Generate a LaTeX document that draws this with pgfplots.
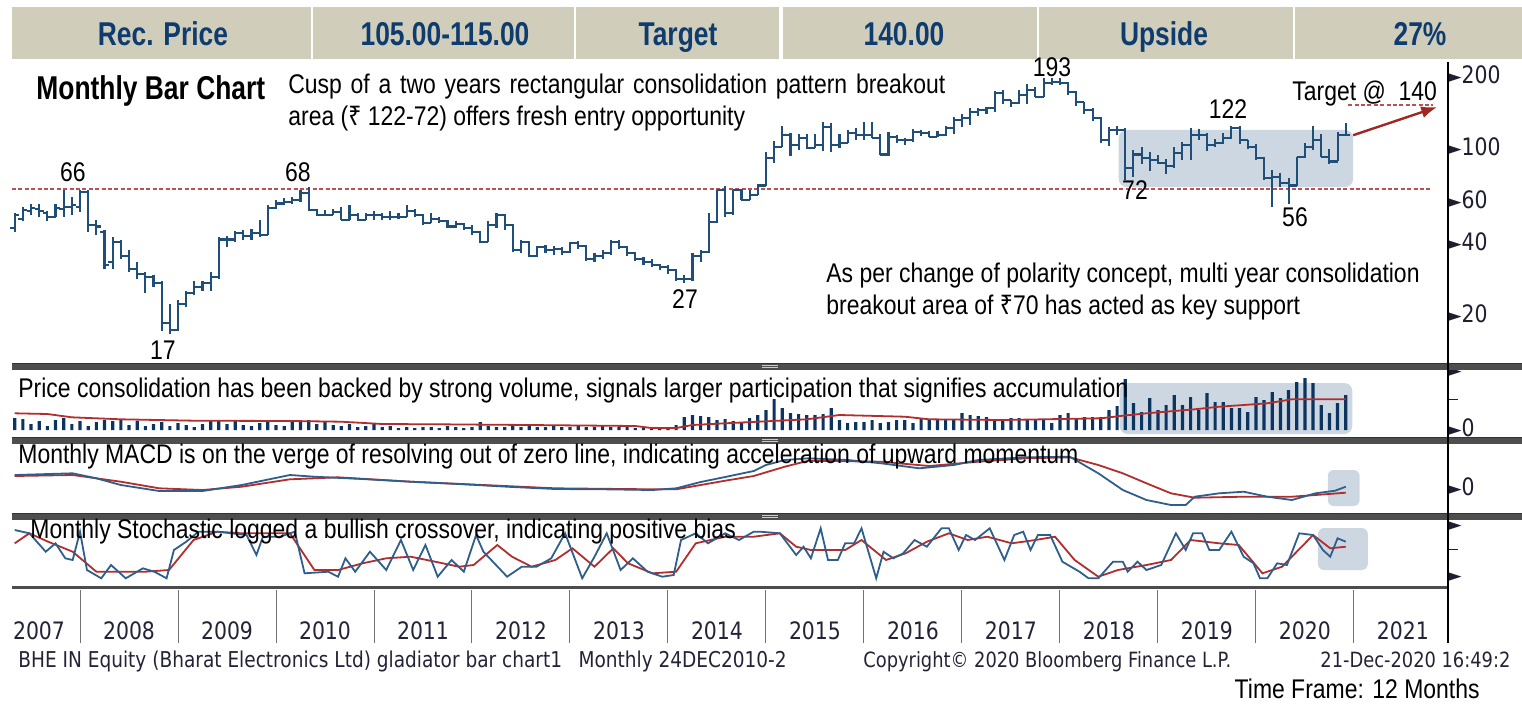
\documentclass[border=0pt]{standalone}
\usepackage{fontspec}
\setmainfont{Liberation Sans}
\newfontfamily\narrow{Liberation Sans}[FakeStretch=0.85]
\newfontfamily\hdr{Liberation Sans}[FakeStretch=0.8]
\newfontfamily\tahoma{DejaVu Sans}[FakeStretch=0.85]
\newfontfamily\djv{DejaVu Sans}
\newfontfamily\rupee{Noto Sans}[FakeStretch=0.85]
\usepackage{pgfplots}
\pgfplotsset{compat=1.18}
\usepackage{pgfplotstable}
\usetikzlibrary{arrows.meta}

\definecolor{hdrbg}{RGB}{209,205,187}
\definecolor{hdrtx}{RGB}{14,60,110}
\definecolor{barc}{RGB}{31,78,121}
\definecolor{volc}{RGB}{12,52,97}
\definecolor{macdb}{RGB}{46,95,140}
\definecolor{redl}{RGB}{178,45,45}
\definecolor{dashc}{RGB}{192,80,77}
\definecolor{shade}{RGB}{205,215,225}
\definecolor{sepc}{RGB}{78,78,78}
\definecolor{foot}{RGB}{35,35,55}
\definecolor{tickc}{RGB}{30,30,50}
\definecolor{arrowc}{RGB}{160,40,35}

\newcommand\tri{{\djv\fontsize{8.5}{8.5}\selectfont\raisebox{0.6pt}{►}}}
\newcommand\tdash{\rule[3.6pt]{4.5pt}{0.6pt}}
\newcommand\ticfont{\tahoma\fontsize{12}{12}\selectfont}
\newcommand\ann{\narrow\fontsize{13.5}{15}\selectfont}
\newcommand\rs{{\rupee ₹}}

\pgfdeclareplotmark{ohlcL}{\pgfpathmoveto{\pgfqpoint{-2.2pt}{0pt}}\pgfpathlineto{\pgfqpoint{0pt}{0pt}}\pgfusepathqstroke}
\pgfdeclareplotmark{ohlcR}{\pgfpathmoveto{\pgfqpoint{0pt}{0pt}}\pgfpathlineto{\pgfqpoint{2.2pt}{0pt}}\pgfusepathqstroke}

\pgfplotsset{panel/.style={anchor=north west, scale only axis, width=717.5pt,
  xmin=-8.33, xmax=167.4, axis line style={draw=none}, xtick=\empty,
  major tick length=0pt, yticklabel pos=right,
  yticklabel style={anchor=west, inner sep=0pt, xshift=0.6pt, font=\ticfont, text=tickc},
  clip=false}}

\pgfplotstableread{
m o h l c
-8 46 53 44 52
-7 50 56 49 54.5
-6 54 58 52 55.5
-5 55 58 51 54
-4 53 54 49 51
-3 51 58 51 55.5
-2 55 66 51 56
-1 56 62 52 57
0 56 66 53.5 65
1 65 66 44 47
2 47 49.5 43 46.5
3 44 45 31 32
4 33 42 31 40
5 40 41 34 35
6 35 37 30 31
7 31 33 28 29.5
8 29.5 30 24.5 28.5
9 28.5 29 26 27
10 27 27.5 17 18.3
11 18.3 22 16.5 17.2
12 17.2 23 17 22
13 22 25 21.5 24.5
14 24.5 27.5 24 26
15 26 27.5 25 27
16 27 30 25 28.5
17 28.5 42 28 41
18 41 42.5 38 41
19 41 44.5 40 43.5
20 43.5 45 41 42.5
21 42.5 45.5 41 43.5
22 43.5 49.5 42 43
23 43 57 43 55.5
24 55.5 60 55 58
25 58 61 57 59
26 59 62 57.5 60
27 60 66 59 64
28 64 68 54 54.5
29 54.5 55 51.5 52
30 52 54.5 51.5 52
31 52 55 52 53.5
32 53.5 56 49.5 49.5
33 49.5 57 49.5 52
34 52 53 49 49.5
35 49.5 53 49.5 52
36 52 54 49.5 52
37 52 53 49.5 51
38 51 54 49.5 51
39 51 53 50 51
40 51 57 51 54
41 54 55 51 52
42 52 52.5 47 48
43 48 53 48 50
44 50 51 48 49
45 49 49.5 46 46.5
46 46.5 49 46 47.5
47 47.5 48 45 46
48 46 47 43 44
49 44 44.5 39.5 40
50 40 49 40 47
51 47 53 46 52
52 52 52.5 45 47
53 47 47.5 36.5 37
54 37 41 36 40
55 40 40.5 34.5 35
56 35 38.5 34.5 38
57 38 39 36 37
58 37 38.5 35.5 37.5
59 37.5 38 35.5 36.5
60 36.5 40 36 39.5
61 39.5 40.5 37.5 38.5
62 38.5 39 33.5 34
63 34 36 33 35
64 35 37 34 36
65 36 41 35.5 40
66 40 41 37.5 38
67 38 38.5 35 36
68 36 36.5 33.5 34
69 34 34.5 32 33
70 33 34 31.5 32
71 32 32.5 30.5 31.5
72 31.5 32 29.5 30.5
73 30.5 31 27.5 28
74 28 29 27 28
75 28 36 27.5 35
76 35 37 33 36.5
77 36.5 53 36 48.5
78 48.5 66 48 66
79 66 69 51 53
80 53 66 52 66
81 66 66.5 60 60
82 60 66 60 63
83 63 70 63 69
84 69 95 69 90
85 90 106 86 100
86 100 122 100 112
87 112 114 92 102
88 102 113 97 109
89 109 113 98 99
90 99 113 99 102
91 102 127 96 121
92 121 126 95 102
93 102 113 99 104
94 104 118 104 114
95 114 120 107 112
96 112 127 107 112
97 112 127 109 109
98 109 113 93 93
99 93 115 92 110
100 110 112 104 107
101 107 109 102 107
102 107 119 105 116
103 116 118 111 114
104 114 117 110 110
105 110 117 110 112
106 112 123 111 120
107 120 133 113 130
108 130 137 121 132
109 132 146 124 140
110 140 146 135 143
111 143 147 138 146
112 146 172 140 168
113 168 173 152 157
114 157 158 147 153
115 153 173 151 165
116 165 184 152 173
117 173 179 162 162
118 162 194 162 185
119 185 194 182 187
120 187 194 182 185
121 185 187 165 170
122 170 172 148 154
123 154 155 138 143
124 143 145 128 132
125 132 133 104 107
126 107 121 101 118
127 118 123 112 118
128 118 120 73 82
129 82 97 75 93
130 93 100 85 90
131 90 95 79 88
132 88 93 85 86
133 86 89 77 83
134 83 100 82 94
135 94 105 88 102
136 102 120 88 112
137 112 119 107 112
138 112 114 96 102
139 102 108 100 104
140 104 114 103 109
141 109 122 108 120
142 120 122 103 107
143 107 107 98 100
144 100 103 88 90
145 90 91 73 74
146 74 80 56 75
147 75 78 68 71
148 71 74 58 69
149 69 91 69 91
150 91 104 90 100
151 100 122 97 107
152 107 113 91 91
153 91 98 85 87
154 87 115 87 112
155 112 126 112 112
}\price

\pgfplotstableread{
m v
-8 12
-7 11
-6 6
-5 9
-4 4
-3 10
-2 12
-1 6
0 9
1 4
2 8
3 10
4 9
5 11
6 5
7 9
8 4
9 6
10 8
11 4
12 7
13 5
14 3
15 6
16 9
17 10
18 6
19 9
20 5
21 4
22 7
23 9
24 5
25 4
26 8
27 9
28 10
29 6
30 8
31 5
32 4
33 6
34 3
35 4
36 6
37 3
38 4
39 2
40 3
41 2
42 3
43 3
44 2
45 4
46 3
47 2
48 3
49 8
50 4
51 3
52 3
53 4
54 3
55 4
56 3
57 3
58 4
59 3
60 3
61 4
62 3
63 3
64 4
65 3
66 3
67 3
68 2
69 3
70 2
71 3
72 3
73 5
74 13
75 15
76 14
77 13
78 10
79 11
80 9
81 8
82 12
83 15
84 20
85 31
86 22
87 17
88 16
89 15
90 15
91 16
92 22
93 10
94 7
95 8
96 8
97 10
98 7
99 8
100 10
101 10
102 7
103 11
104 10
105 10
106 10
107 11
108 17
109 15
110 14
111 13
112 11
113 11
114 12
115 12
116 11
117 11
118 11
119 7
120 15
121 17
122 11
123 13
124 13
125 13
126 20
127 24
128 51
129 27
130 18
131 32
132 20
133 25
134 35
135 25
136 33
137 20
138 37
139 28
140 28
141 22
142 22
143 18
144 33
145 30
146 38
147 32
148 40
149 48
150 52
151 47
152 25
153 17
154 27
155 35
}\vol

\begin{document}
\begin{tikzpicture}
\useasboundingbox (0,0) rectangle (761pt,-351.5pt);

% header
\foreach \a/\b/\t/\cx in {6/155.5/Rec. Price/81.5, 156.5/287/105.00-115.00/222.5, 288/389.5/Target/339, 391.5/518.5/140.00/452, 519.5/646.5/Upside/582, 647.5/761/27\%/710}{
  \fill[hdrbg] (\a pt,-3.5pt) rectangle (\b pt,-29.5pt);
  \node[anchor=base, text=hdrtx, font=\hdr\bfseries\fontsize{16.5}{16.5}\selectfont, inner sep=0pt] at (\cx pt,-22.5pt) {\t};
}

% price panel
\begin{axis}[panel, at={(6pt,-31pt)}, height=150pt,
  ymode=log, ymin=12.6, ymax=226.8,
  ytick={20,40,60,100,200},
  yticklabels={\tri20,\tri40,\tri60,\tri100,\tri200}]
\addplot[fill=shade, draw=none, rounded corners=4pt] coordinates {(127.2,68)(155.9,68)(155.9,117.8)(127.2,117.8)} -- cycle;
\addplot[dashc, dash pattern=on 2pt off 1.2pt, line width=0.6pt] coordinates {(-8.33,66.7)(165.5,66.7)};
\addplot[dashc, dash pattern=on 2pt off 1.2pt, line width=0.6pt] coordinates {(155.3,150)(165.7,150)};
\addplot[draw=none, mark=none, error bars/.cd, y dir=plus, y explicit, error mark=none,
  error bar style={draw=barc, line width=1.05pt}]
  table[x=m, y=l, y error plus expr=\thisrow{h}-\thisrow{l}] {\price};
\addplot[only marks, mark=ohlcL, mark options={draw=barc, line width=1.05pt}] table[x=m, y=o] {\price};
\addplot[only marks, mark=ohlcR, mark options={draw=barc, line width=1.05pt}] table[x=m, y=c] {\price};
\addplot[arrowc, line width=1.2pt, -{Latex[length=8pt,width=6pt]}] coordinates {(155.9,112)(166.2,147)};
\end{axis}

% volume panel
\begin{axis}[panel, at={(6pt,-185.5pt)}, height=32.5pt,
  ymin=-6, ymax=59, ytick={2,27,57}, yticklabels={\tri0,\tdash,\tri}]
\addplot[fill=shade, draw=none, rounded corners=4pt] coordinates {(127.3,-4)(155.8,-4)(155.8,47)(127.3,47)} -- cycle;
\addplot[ybar, bar width=1.6pt, fill=volc, draw=none] table[x=m, y=v] {\vol};
\addplot[redl, line width=0.9pt] coordinates {(-8,16.7)(-4,16)(-1,12.7)(5,10.7)(14,9.3)(26,9)(32,8.3)(37,6)(44,5.7)(55,5)(68,4)(70,2)(73,2)(75,5)(79,6.7)(83,8.3)(89,10.7)(93,15)(101,13.3)(104,10.7)(113,10)(125,11.7)(127.4,14)(130.6,16.7)(136.5,20.7)(139.5,23.3)(142.5,25)(145.4,26.7)(148.4,30.7)(151.3,30.7)(155,30.7)};
\end{axis}

% MACD panel
\begin{axis}[panel, at={(6pt,-221.5pt)}, height=35pt,
  ymin=-26, ymax=44, ytick={0}, yticklabels={\tri0}]
\addplot[fill=shade, draw=none, rounded corners=3pt] coordinates {(152.8,-19)(156.7,-19)(156.7,17)(152.8,17)} -- cycle;
\addplot[redl, line width=0.9pt] coordinates {(-8,11)(-0.9,12)(5,5.3)(9.7,-1.3)(15,-3)(19.8,0.3)(25.7,7.7)(31.6,9.7)(40.5,5.3)(49.4,2)(58.2,-1.3)(70.1,-2.3)(73,-2.3)(76,2)(79,6.3)(82.5,11)(86.3,20.3)(89.2,26.3)(98.1,25.3)(104,21)(110,25.3)(115.8,28.7)(121.2,29.7)(124.7,22)(127.7,13.7)(130.6,3.7)(133.6,-6.3)(136.5,-10.7)(142.5,-9.7)(148.4,-9.7)(151.3,-8)(155,-5.7)};
\addplot[macdb, line width=0.9pt] coordinates {(-8,12)(-0.9,13.7)(2,8.7)(5,2)(9.7,-4)(15,-4)(19.8,2)(25.7,12)(28.7,10.3)(34.6,8)(40.5,5.3)(46.4,3)(52.3,0.3)(58.2,-2)(64.2,-2.3)(70.1,-3)(73,-1.3)(76,5)(79,10)(82.5,16)(84,22)(86.3,27)(89.2,28.7)(94,27)(98.1,23.7)(102.8,18.7)(107,22)(110,27)(115.8,29.7)(121.2,30.3)(124.7,13.7)(127.7,-3)(130.6,-13)(133.6,-18)(135.4,-18)(136.5,-9.7)(139.5,-6.3)(142.5,-4.7)(145.4,-9.7)(148.4,-13)(151.3,-6.3)(153.7,-3.7)(155,0.3)};
\end{axis}

% Stochastic panel
\begin{axis}[panel, at={(6pt,-260.5pt)}, height=34.5pt,
  ymin=0, ymax=69, ytick={12,37,63}, yticklabels={\tri,\tdash,\tri}]
\addplot[fill=shade, draw=none, rounded corners=3pt] coordinates {(151.6,20)(157.7,20)(157.7,62)(151.6,62)} -- cycle;
\addplot[redl, line width=0.9pt] coordinates {(-8,46.7)(-6.2,56.7)(-3.9,48.3)(-0.9,38.3)(2,18.3)(8,18.3)(10.9,20)(13.9,50)(16.8,58.3)(19.8,56.7)(25.7,56.7)(28.7,20)(31.6,20)(34.6,26.7)(37.5,31.7)(40.5,33.3)(43.5,28.3)(46.4,23.3)(48.2,25)(49.4,33.3)(51.1,45)(52.9,33.3)(55.3,23.3)(58.2,30)(60.3,41.7)(63,23.3)(65.3,41.7)(67.1,26.7)(70.1,16.7)(73,18.3)(75.4,46.7)(79,53.3)(82.5,53.3)(85.7,56.7)(87.7,43.3)(89.5,40)(91.6,40)(93.7,40)(95.7,50)(98.7,30)(101.1,36.7)(103.7,48.3)(106.4,56.7)(108.7,50)(111.1,53.3)(114.1,46.7)(117,50)(119.4,53.3)(121.8,30)(124.7,13.3)(127.1,20)(130.6,25)(133.6,30)(136,50)(139.5,46.7)(141.9,45)(144.8,16.7)(147.2,23.3)(148.4,33.3)(151,55)(153.1,41.7)(155,43.3)};
\addplot[macdb, line width=0.9pt] coordinates {(-8,60)(-6.2,56.7)(-4.2,38.3)(-3,46.7)(-1.8,31.7)(-0.9,30)(0,58.3)(0.85,20)(2.6,11.7)(3.8,25)(5.6,11.7)(7.7,21.7)(9.1,18.3)(10.6,11.7)(11.5,40)(13,48.3)(14.5,58.3)(16.8,58.3)(20.4,55)(21.6,35)(22.4,53.3)(24.5,53.3)(26.3,58.3)(27.5,16.7)(30.4,18.3)(31.6,13.3)(32.5,31.7)(33.7,18.3)(35.5,38.3)(37.5,20)(39.3,50)(40.8,20)(42.3,45)(43.8,13.3)(45.5,30)(47,18.3)(48.5,55)(49.4,38.3)(52.3,13.3)(54.1,23.3)(55.9,23.3)(57.7,31.7)(59.4,56.7)(61.5,11.7)(63,33.3)(64.5,56.7)(66.2,20)(67.7,31.7)(69.5,18.3)(71.3,13.3)(72.7,15)(73.6,50)(75.4,56.7)(76.9,46.7)(79,56.7)(80.7,50)(82.5,58.3)(83.3,58.3)(85.7,56.7)(87.7,35)(88.6,43.3)(89.5,31.7)(90.7,61.7)(91.6,30)(92.8,30)(93.7,46.7)(94.8,46.7)(95.7,61.7)(97.5,11.7)(98.4,38.3)(99.6,31.7)(100.8,36.7)(102.2,50)(103.7,43.3)(105.5,61.7)(106.4,61.7)(107.6,40)(108.5,55)(109.6,50)(111.4,61.7)(113.2,30)(114.4,55)(115.5,58.3)(116.4,40)(117.3,55)(118.8,55)(120.3,28.3)(122.4,18.3)(123.5,11.7)(124.7,11.7)(126.5,28.3)(127.7,28.3)(128.3,18.3)(129.5,28.3)(130.6,20)(132.4,25)(134.2,56.7)(135.4,40)(136.3,56.7)(137.4,56.7)(138.3,40)(139.5,40)(141,58.3)(142.5,33.3)(143.7,26.7)(144.5,11.7)(145.4,11.7)(146.6,26.7)(147.8,25)(149.3,56.7)(151,55)(152.2,40)(153.1,33.3)(154,51.7)(155,48.3)};
\end{axis}

% year axis
\begin{axis}[at={(6pt,-295pt)}, anchor=north west, scale only axis, width=717.5pt, height=26.5pt,
  xmin=-8.33, xmax=167.4, ymin=0, ymax=1, axis line style={draw=none}, ytick=\empty,
  xtick={0,12,...,156},
  xticklabels={2008,2009,2010,2011,2012,2013,2014,2015,2016,2017,2018,2019,2020,2021},
  xtick pos=left, tick align=inside, major tick length=26.5pt,
  xtick style={draw=black!55, line width=0.5pt},
  xticklabel style={anchor=base, xshift=24.5pt, yshift=1.75pt, inner sep=0pt,
    font=\tahoma\fontsize{12}{12}\selectfont, text=foot}]
\addplot[draw=none] coordinates {(0,0.5)};
\end{axis}
\node[anchor=base, inner sep=0pt, font=\tahoma\fontsize{12}{12}\selectfont, text=foot] at (19.5pt,-319.75pt) {2007};

% separators and frame
\foreach \yt in {181.5,218.5,256.5}{
  \fill[sepc] (6pt,-\yt pt) rectangle (761pt,-\yt pt-3.5pt);
  \draw[black!80, line width=0.5pt] (6pt,-\yt pt) -- (761pt,-\yt pt);
  \draw[white!60!gray, line width=0.3pt] (381pt,-\yt pt-1.2pt) -- (389pt,-\yt pt-1.2pt);
  \draw[white!60!gray, line width=0.3pt] (381pt,-\yt pt-2.3pt) -- (389pt,-\yt pt-2.3pt);
}
\fill[black!70] (6pt,-293pt) rectangle (724pt,-294.5pt);
\draw[black, line width=0.9pt] (724pt,-31pt) -- (724pt,-321.5pt);

% annotations
\node[anchor=base west, inner sep=0pt, font=\hdr\bfseries\fontsize{16.5}{16.5}\selectfont] at (18pt,-49.5pt) {Monthly Bar Chart};
\node[anchor=base west, inner sep=0pt, font=\ann] at (144pt,-46.5pt) {\makebox[328.5pt][s]{Cusp of a two years rectangular consolidation pattern breakout}};
\node[anchor=base west, inner sep=0pt, font=\ann] at (144pt,-62.5pt) {area (\rs\ 122-72) offers fresh entry opportunity};
\node[anchor=base west, inner sep=0pt, font=\ann] at (413pt,-141pt) {As per change of polarity concept, multi year consolidation};
\node[anchor=base west, inner sep=0pt, font=\ann] at (413pt,-157pt) {breakout area of \rs70 has acted as key support};
\node[anchor=base west, inner sep=0pt, font=\ann] at (646pt,-50pt) {Target @\ \ 140};
\foreach \t/\x/\y in {66/36.5/86, 68/149/86, 17/81.5/175, 27/342.5/149.5, 193/526/33.5, 122/614/54.5, 72/567.5/95, 56/647.5/108.5}{
  \node[inner sep=0pt, font=\ann] at (\x pt,-\y pt) {\t};
}
\node[anchor=base west, inner sep=0pt, font=\ann] at (9pt,-198.5pt) {Price consolidation has been backed by strong volume, signals larger participation that signifies accumulation};
\node[anchor=base west, inner sep=0pt, font=\ann] at (9pt,-231.5pt) {Monthly MACD is on the verge of resolving out of zero line, indicating acceleration of upward momentum};
\node[anchor=base west, inner sep=0pt, font=\ann] at (15pt,-269pt) {Monthly Stochastic logged a bullish crossover, indicating positive bias};

% footer
\node[anchor=base west, inner sep=0pt, font=\tahoma\fontsize{10.9}{10.9}\selectfont, text=foot] at (9pt,-333.5pt) {BHE IN Equity (Bharat Electronics Ltd) gladiator bar chart1\hspace{0.75em}Monthly 24DEC2010-2};
\node[anchor=base west, inner sep=0pt, font=\tahoma\fontsize{10.5}{10.5}\selectfont, text=foot] at (431.5pt,-333.5pt) {Copyright© 2020 Bloomberg Finance L.P.};
\node[anchor=base west, inner sep=0pt, font=\tahoma\fontsize{10.5}{10.5}\selectfont, text=foot] at (660pt,-333.5pt) {21-Dec-2020 16:49:2};
\node[anchor=base east, inner sep=0pt, font=\ann] at (740pt,-349pt) {Time Frame: 12 Months};
\end{tikzpicture}
\end{document}
